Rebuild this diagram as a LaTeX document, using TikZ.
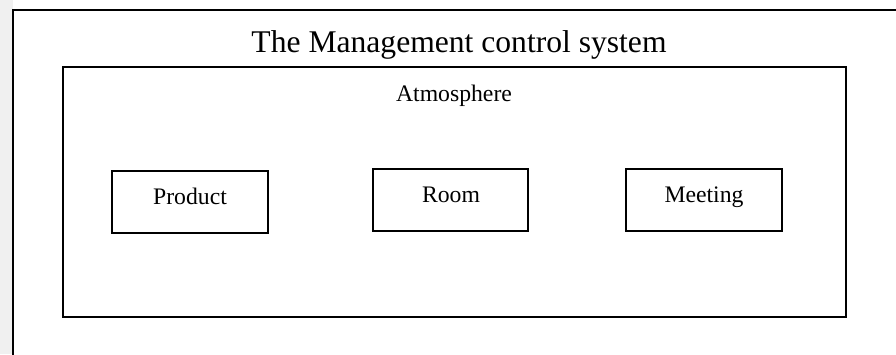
\documentclass[tikz,border=0pt]{standalone}
\usepackage{fontspec}
\setmainfont{Liberation Serif}
\begin{document}
\begin{tikzpicture}[x=1pt,y=-1pt,
  frame/.style={line width=2pt,draw=black},
  itembox/.style={line width=2pt,draw=black},
  bigtext/.style={font=\fontsize{31.6}{38}\selectfont,anchor=base,inner sep=0pt},
  smalltext/.style={font=\fontsize{23.7}{28}\selectfont,anchor=base,inner sep=0pt}]
  \useasboundingbox (0,0) rectangle (896,354);
  % shaded margin on the left
  \fill[gray!12] (0,0) rectangle (13,354);
  \fill[white] (13,0) rectangle (896,354);
  % outer frame, open to the right and bottom
  \coordinate (otr) at (896,10);
  \coordinate (otl) at (13,10);
  \coordinate (obl) at (13,354);
  \draw[frame,line cap=rect] (otr) -- (otl) -- (obl);
  \node[bigtext] (title) at (459,52) {The Management control system};
  % environment box
  \draw[frame] (63,67) rectangle (846,317);
  \node[smalltext] (atm) at (454,101) {Atmosphere};
  % elements
  \draw[itembox] (112,171) rectangle (268,233);
  \node[smalltext] (product) at (190,204) {Product};
  \draw[itembox] (373,169) rectangle (528,231);
  \node[smalltext] (room) at (451,202) {Room};
  \draw[itembox] (626,169) rectangle (782,231);
  \node[smalltext] (meeting) at (704,202.5) {Meeting};
\end{tikzpicture}
\end{document}
